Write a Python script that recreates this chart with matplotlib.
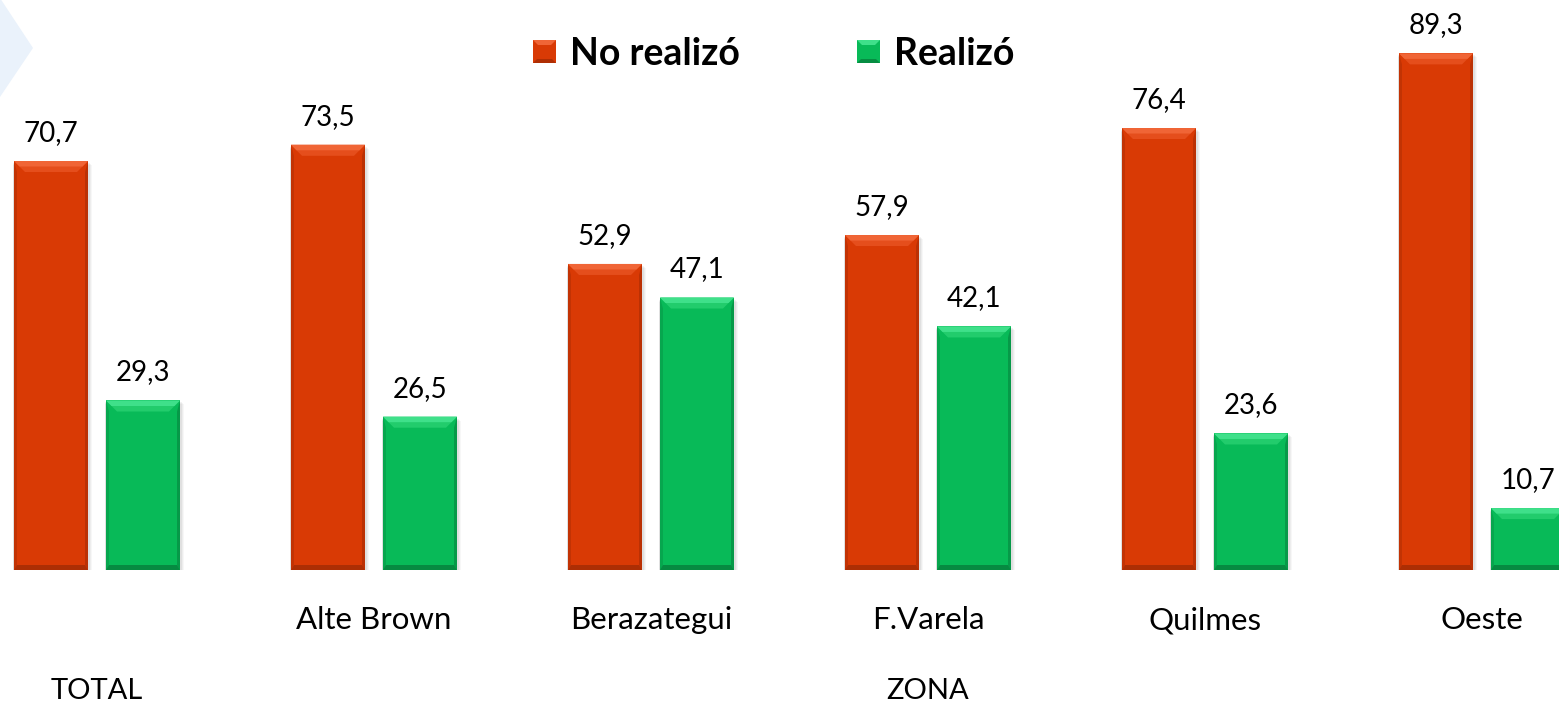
import matplotlib
matplotlib.use("Agg")
import matplotlib.pyplot as plt
from matplotlib.patches import Polygon, Rectangle
import numpy as np

categories = ["TOTAL", "Alte Brown", "Berazategui", "F.Varela", "Quilmes", "Oeste"]
no_realizo = [70.7, 73.5, 52.9, 57.9, 76.4, 89.3]
realizo = [29.3, 26.5, 47.1, 42.1, 23.6, 10.7]
series_names = ["No realizó", "Realizó"]
group_labels = ["TOTAL", "ZONA"]

plt.rcParams['font.family'] = ['Lato', 'DejaVu Sans']

W, H = 1559, 703
fig = plt.figure(figsize=(W / 100, H / 100), dpi=100)
fig.patch.set_facecolor("white")

# overlay in pixel coordinates for decorations
ov = fig.add_axes([0, 0, 1, 1], zorder=0)
ov.set_xlim(0, W)
ov.set_ylim(H, 0)
ov.axis("off")
ov.add_patch(Polygon([(0, -2), (33, 48), (0, 97)], closed=True,
                     facecolor="#EAF2FB", edgecolor="none"))

ax = fig.add_axes([0, 133 / H, 1, 570 / H], zorder=1)
ax.patch.set_alpha(0)
ppx = 277.0  # px per group
ax.set_xlim(-97 / ppx, (W - 97) / ppx)
ax.set_ylim(0, 570 / 5.785)
ax.axis("off")

x = np.arange(len(categories))
bw = 74 / ppx
off = 46 / ppx

red = dict(base="#D93A05", light="#F06536", mid="#E54E1C", dark="#9E2A04", side="#C23304")
green = dict(base="#08BA58", light="#3FE08A", mid="#22CC6C", dark="#067A3A", side="#07A64E")

sx = (ax.get_xlim()[1] - ax.get_xlim()[0]) / W
sy = (ax.get_ylim()[1] - ax.get_ylim()[0]) / 570


def bevel(bar, c):
    x0, y0 = bar.get_x(), bar.get_y()
    x1, y1 = x0 + bar.get_width(), y0 + bar.get_height()
    dt, ds, db = 11, 3, 5
    # soft shadow
    for k, a in [(4, 0.03), (3, 0.04), (2, 0.05)]:
        ax.add_patch(Rectangle((x0 - 1 * sx, y0 - k * sy), x1 - x0 + (k + 1) * sx, y1 - y0,
                               facecolor="#000000", alpha=a, edgecolor="none", zorder=1))
    # top bevel (two-tone gradient)
    ax.add_patch(Polygon([(x0, y1), (x1, y1), (x1 - dt * sx, y1 - dt * sy), (x0 + dt * sx, y1 - dt * sy)],
                         facecolor=c["mid"], edgecolor="none", zorder=3))
    h = dt * 0.5
    ax.add_patch(Polygon([(x0, y1), (x1, y1), (x1 - h * sx, y1 - h * sy), (x0 + h * sx, y1 - h * sy)],
                         facecolor=c["light"], edgecolor="none", zorder=3))
    # left/right
    ax.add_patch(Polygon([(x0, y1), (x0 + ds * sx, y1 - dt * sy), (x0 + ds * sx, y0 + db * sy), (x0, y0)],
                         facecolor=c["side"], edgecolor="none", zorder=3))
    ax.add_patch(Polygon([(x1, y1), (x1 - ds * sx, y1 - dt * sy), (x1 - ds * sx, y0 + db * sy), (x1, y0)],
                         facecolor=c["dark"], alpha=0.5, edgecolor="none", zorder=3))
    # bottom
    ax.add_patch(Polygon([(x0, y0), (x1, y0), (x1 - ds * sx, y0 + db * sy), (x0 + ds * sx, y0 + db * sy)],
                         facecolor=c["dark"], alpha=0.75, edgecolor="none", zorder=3))


b1 = ax.bar(x - off, no_realizo, bw, color=red["base"], zorder=2)
b2 = ax.bar(x + off, realizo, bw, color=green["base"], zorder=2)
for b in b1:
    bevel(b, red)
for b in b2:
    bevel(b, green)

lab_dy = 28 * sy
for xi, v in zip(x - off, no_realizo):
    ax.text(xi, v + lab_dy, f"{v:.1f}".replace(".", ","), ha="center", va="center", fontsize=20, zorder=4)
for xi, v in zip(x + off, realizo):
    ax.text(xi, v + lab_dy, f"{v:.1f}".replace(".", ","), ha="center", va="center", fontsize=20, zorder=4)

# category labels (zones)
for xi, name in zip(x[1:], categories[1:]):
    ax.text(xi, -59 * sy, name, ha="center", va="baseline", fontsize=22.5, clip_on=False)
# group labels
ax.text(x[0], -129 * sy, group_labels[0], ha="center", va="baseline", fontsize=21, clip_on=False)
ax.text(x[1:].mean(), -129 * sy, group_labels[1], ha="center", va="baseline", fontsize=21, clip_on=False)

# legend
leg_items = [(533, series_names[0], red), (857, series_names[1], green)]
for lx, name, c in leg_items:
    s = 23
    ov.add_patch(Rectangle((lx, 40), s, s, facecolor=c["base"], edgecolor="none"))
    ov.add_patch(Polygon([(lx, 40), (lx + s, 40), (lx + s - 5, 45), (lx + 5, 45)], facecolor=c["light"], edgecolor="none"))
    ov.add_patch(Polygon([(lx, 40 + s), (lx + s, 40 + s), (lx + s - 4, 36 + s), (lx + 4, 36 + s)], facecolor=c["dark"], edgecolor="none", alpha=0.7))
    ov.text(lx + 37, 54, name, ha="left", va="center", fontsize=27, fontweight="bold")

fig.savefig("out.png", dpi=100)
